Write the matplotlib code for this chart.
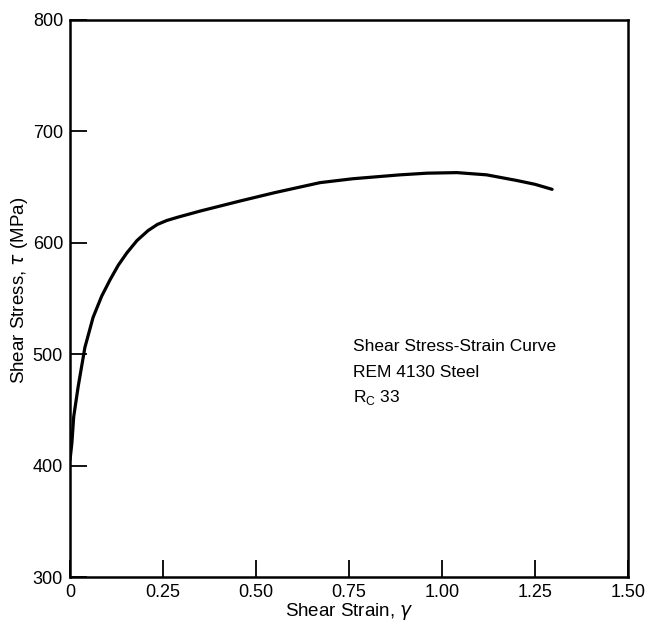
import matplotlib
matplotlib.use("Agg")
import matplotlib.pyplot as plt
import numpy as np

strain = [0.0, 0.005, 0.01, 0.022, 0.04, 0.062, 0.085, 0.108, 0.13, 0.153, 0.18,
          0.21, 0.235, 0.26, 0.29, 0.35, 0.457, 0.55, 0.672, 0.76, 0.887, 0.96, 1.04,
          1.12, 1.2, 1.25, 1.296]
stress = [405, 420, 444, 471, 506, 533, 552, 567, 580, 591, 602,
          611, 616.5, 620, 623, 628.5, 637.5, 645, 654, 657.5, 661, 662.5, 663,
          661, 656, 652.5, 648]

xticks = [0, 0.25, 0.5, 0.75, 1.0, 1.25, 1.5]
xticklabels = ["0", "0.25", "0.50", "0.75", "1.00", "1.25", "1.50"]
yticks = [300, 400, 500, 600, 700, 800]
yticklabels = ["300", "400", "500", "600", "700", "800"]

note_lines = ["Shear Stress-Strain Curve", "REM 4130 Steel", r"R$_\mathregular{C}$ 33"]

FAM = ['Liberation Sans', 'DejaVu Sans']
plt.rcParams['font.family'] = FAM
plt.rcParams['mathtext.fontset'] = 'dejavusans'
fig = plt.figure(figsize=(6.49, 6.25), dpi=100)
ax = fig.add_axes([70/649, 1 - 577/625, 558/649, 557/625])

ax.plot(strain, stress, color='black', lw=2.3, solid_capstyle='round', solid_joinstyle='round')
ax.set_xlim(0, 1.5)
ax.set_ylim(300, 800)
ax.set_xticks(xticks)
ax.set_xticklabels(xticklabels)
ax.set_yticks(yticks)
ax.set_yticklabels(yticklabels)
ax.tick_params(direction='in', length=12, width=1.3, labelsize=13, pad=5)
for s in ax.spines.values():
    s.set_linewidth(1.8)

ax.set_xlabel(r"Shear Strain, $\gamma$", fontsize=13.5, labelpad=0)
ax.set_ylabel(r"Shear Stress, $\tau$ (MPa)", fontsize=13.5)
ax.yaxis.set_label_coords(-0.072, 0.515)

note_y = [507, 484, 461]
for t, y in zip(note_lines, note_y):
    ax.text(0.76, y, t, fontsize=12.5, va='center', ha='left')

fig.savefig("out.png", dpi=100)
